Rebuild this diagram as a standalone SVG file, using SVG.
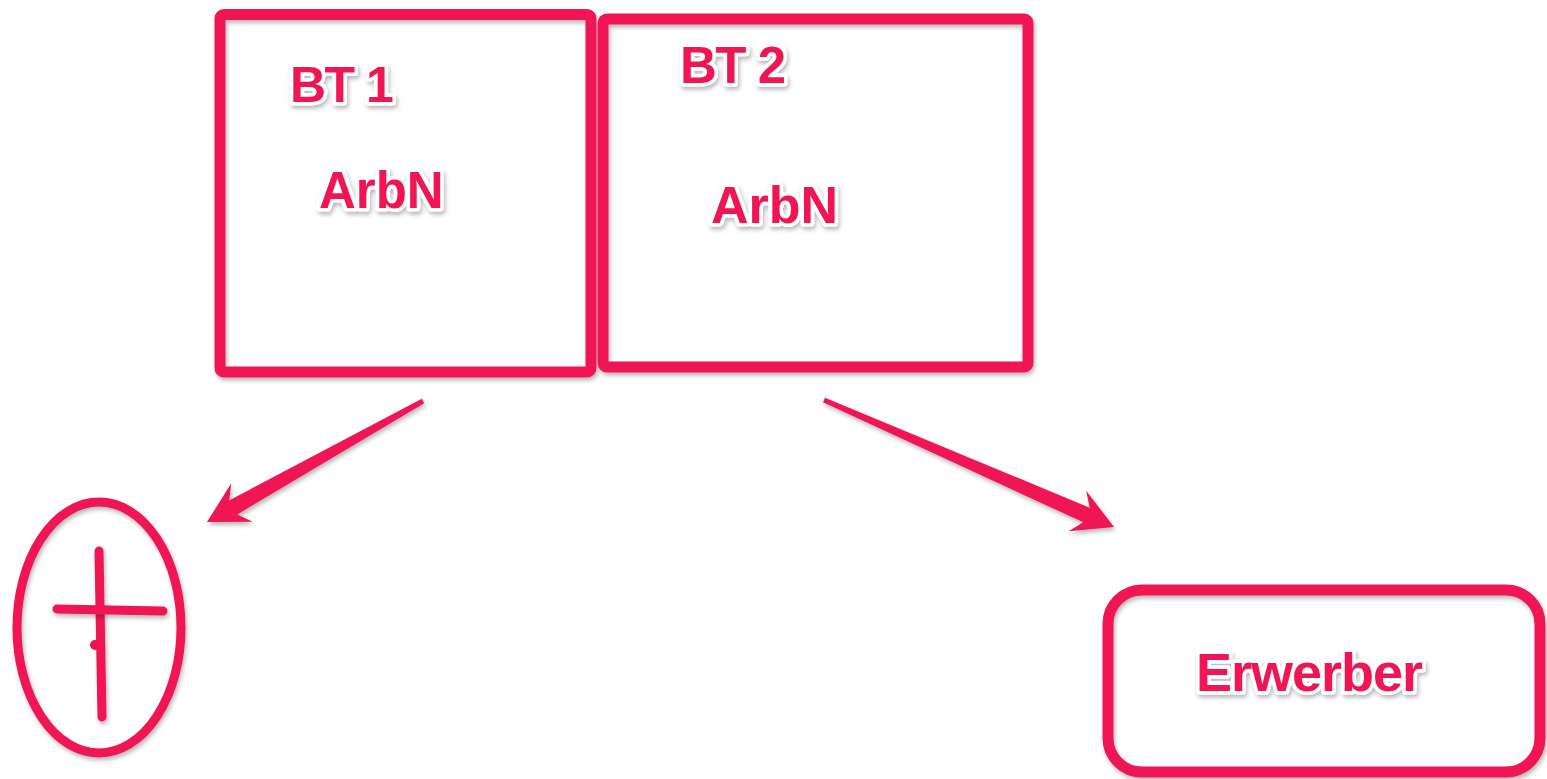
<svg xmlns="http://www.w3.org/2000/svg" width="1547" height="779" viewBox="0 0 1547 779">
<defs>
<filter id="sh" filterUnits="userSpaceOnUse" x="0" y="0" width="1547" height="779">
<feDropShadow dx="1.5" dy="3" stdDeviation="2" flood-color="#000" flood-opacity="0.28"/>
</filter>
<style>
.box{fill:none;stroke:#F01352;stroke-width:11;stroke-linejoin:round;filter:url(#sh)}
.lbl{font-family:"Liberation Sans",Arial,sans-serif;font-weight:bold;fill:#F01352;stroke:#fff;stroke-width:7;stroke-linejoin:round;paint-order:stroke;filter:url(#sh)}
.arrow{fill:#F01352;filter:url(#sh)}
.mark{fill:none;stroke:#F01352;stroke-width:9;stroke-linecap:round;filter:url(#sh)}
</style>
</defs>
<rect width="1547" height="779" fill="#fff"/>
<g id="bt1">
<rect class="box" x="220" y="14.5" width="371" height="357.5" rx="4"/>
<text class="lbl" x="290" y="102" font-size="50" letter-spacing="-1.5">BT 1</text>
<text class="lbl" x="319" y="208" font-size="51">ArbN</text>
</g>
<g id="bt2">
<rect class="box" x="603" y="19" width="425" height="348" rx="4"/>
<text class="lbl" x="680" y="83" font-size="51" letter-spacing="-1.5">BT 2</text>
<text class="lbl" x="711" y="223" font-size="52">ArbN</text>
</g>
<g id="tot">
<ellipse class="mark" cx="99" cy="627.5" rx="82" ry="125.5"/>
<line class="mark" x1="99" y1="551" x2="102" y2="717"/>
<line class="mark" x1="57" y1="609" x2="163" y2="611"/>
<circle cx="95" cy="645" r="5" fill="#F01352"/>
</g>
<g id="erwerber">
<rect class="box" x="1108" y="590" width="432" height="182" rx="34"/>
<text class="lbl" x="1196" y="691" font-size="54" letter-spacing="-1">Erwerber</text>
</g>
<g id="connectors">
<polygon class="arrow" points="207,522 231.3,483.3 229.2,500.4 421.8,398.8 424.2,403.2 237.2,514.4 252.7,521.7"/>
<polygon class="arrow" points="1114,527 1086.2,490.8 1089.7,507.7 825,397.7 823,402.3 1083.3,522.3 1068.6,531.2"/>
</g>
</svg>
